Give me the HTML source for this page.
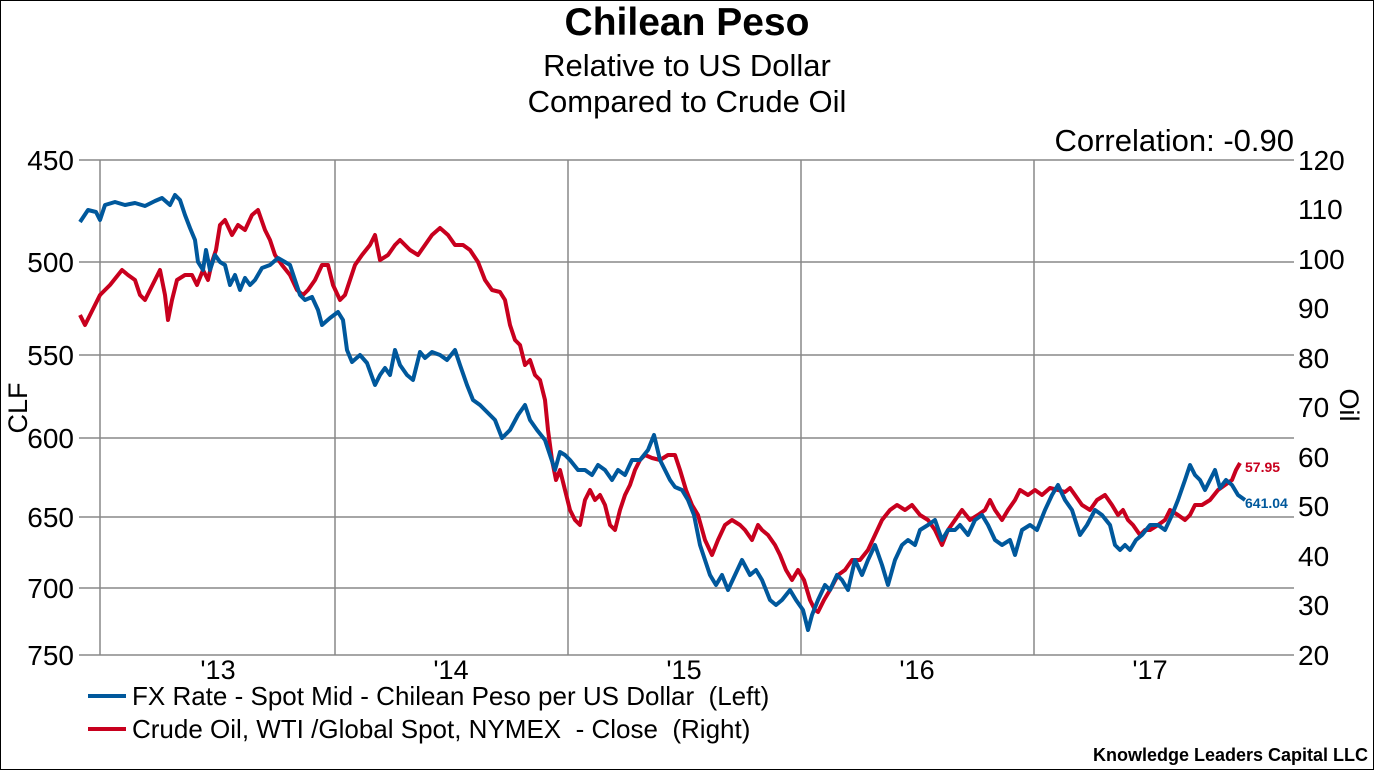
<!DOCTYPE html>
<html><head><meta charset="utf-8"><style>
body{margin:0;background:#fff;}
svg{display:block;font-family:"Liberation Sans",Arial,sans-serif;}
.pre{white-space:pre;}
</style></head><body>
<svg width="1375" height="770" xmlns="http://www.w3.org/2000/svg">
<rect x="0.5" y="0.5" width="1373" height="769" fill="#fff" stroke="#000" stroke-width="1"/>
<text x="687" y="35" text-anchor="middle" font-size="39" font-weight="bold">Chilean Peso</text>
<text x="687" y="76" text-anchor="middle" font-size="31">Relative to US Dollar</text>
<text x="687" y="112" text-anchor="middle" font-size="31">Compared to Crude Oil</text>
<text x="1294" y="151" text-anchor="end" font-size="31">Correlation: -0.90</text>
<g stroke="#888" stroke-width="1.5" fill="none">
<line x1="79" y1="160" x2="1294" y2="160"/>
<line x1="79" y1="262" x2="1294" y2="262"/>
<line x1="79" y1="355" x2="1294" y2="355"/>
<line x1="79" y1="438" x2="1294" y2="438"/>
<line x1="79" y1="517" x2="1294" y2="517"/>
<line x1="79" y1="588" x2="1294" y2="588"/>
<line x1="79" y1="655" x2="1294" y2="655"/>
<line x1="100" y1="160" x2="100" y2="655"/>
<line x1="335" y1="160" x2="335" y2="655"/>
<line x1="568" y1="160" x2="568" y2="655"/>
<line x1="801" y1="160" x2="801" y2="655"/>
<line x1="1034" y1="160" x2="1034" y2="655"/>
</g>
<g font-size="28" text-anchor="end">
<text x="74" y="170">450</text><text x="74" y="272">500</text><text x="74" y="365">550</text>
<text x="74" y="448">600</text><text x="74" y="527">650</text><text x="74" y="598">700</text><text x="74" y="665">750</text>
</g>
<g font-size="28">
<text x="1298" y="170">120</text><text x="1298" y="219">110</text><text x="1298" y="269">100</text>
<text x="1298" y="318">90</text><text x="1298" y="368">80</text><text x="1298" y="417">70</text>
<text x="1298" y="467">60</text><text x="1298" y="516">50</text><text x="1298" y="566">40</text>
<text x="1298" y="615">30</text><text x="1298" y="665">20</text>
</g>
<g font-size="27" text-anchor="middle">
<text x="218" y="679">'13</text><text x="451" y="679">'14</text><text x="684" y="679">'15</text><text x="917" y="679">'16</text><text x="1150" y="679">'17</text>
</g>
<text transform="translate(27,408) rotate(-90)" text-anchor="middle" font-size="27">CLF</text>
<text transform="translate(1340,405) rotate(90)" text-anchor="middle" font-size="27">Oil</text>
<polyline fill="none" stroke="#c8001e" stroke-width="4" stroke-linejoin="round" points="80,315 85,325 90,315 95,305 100,295 110,285 118,275 122,270 128,275 135,280 140,295 145,300 150,290 155,280 160,270 165,295 168,320 172,300 177,280 185,275 192,275 197,285 203,270 208,280 212,262 216,250 220,225 225,220 232,235 238,225 245,230 252,215 258,210 265,230 270,240 275,255 282,265 290,275 297,290 303,295 308,290 315,280 322,265 328,265 333,285 340,300 345,295 350,280 355,265 362,255 370,245 375,235 380,260 388,255 395,245 400,240 410,250 418,255 425,245 432,235 440,228 448,235 455,245 463,245 470,250 478,262 485,280 492,290 500,292 505,300 510,325 515,340 520,345 525,365 530,360 535,375 540,380 545,400 548,430 552,460 556,480 560,470 565,490 570,510 575,520 580,525 585,500 590,490 595,500 600,495 605,505 610,525 615,530 620,510 625,495 630,485 635,470 640,460 645,455 652,458 660,460 668,455 675,455 680,470 686,490 692,505 698,515 705,540 712,555 718,540 725,525 732,520 740,525 745,530 752,540 758,525 762,530 768,535 775,545 780,555 786,570 792,580 798,570 804,580 810,600 815,610 818,612 824,600 830,590 838,575 845,570 852,560 860,560 868,550 875,535 882,520 890,510 897,505 905,510 912,505 920,515 928,520 935,530 942,545 948,530 955,520 962,510 970,520 978,515 985,510 990,500 995,510 1002,520 1008,510 1015,500 1020,490 1028,495 1035,490 1042,495 1050,488 1058,490 1065,492 1070,488 1075,495 1082,505 1090,510 1097,500 1105,495 1112,505 1118,515 1123,510 1128,520 1133,525 1140,535 1145,530 1150,530 1158,525 1165,520 1170,510 1178,515 1185,520 1190,515 1195,505 1202,505 1210,500 1218,490 1225,485 1232,480 1236,470 1240,463"/>
<polyline fill="none" stroke="#00589c" stroke-width="4" stroke-linejoin="round" points="80,222 88,210 96,212 100,220 105,205 115,202 125,205 135,203 145,206 155,201 162,198 170,205 175,195 180,200 185,215 190,228 195,240 198,262 203,270 206,250 210,270 215,255 220,262 225,265 230,285 235,275 240,290 245,278 250,285 255,280 262,268 270,265 278,258 285,262 290,265 295,280 300,295 305,300 312,297 318,310 322,325 330,318 338,312 343,320 347,350 352,362 360,355 367,363 375,385 380,375 385,368 390,375 395,350 400,365 407,375 413,380 420,352 425,358 432,352 440,355 447,360 455,350 460,365 467,385 473,400 480,405 487,412 495,420 502,438 510,430 518,415 525,405 530,420 537,430 545,440 550,455 555,470 560,452 565,455 570,460 578,470 585,470 592,475 598,465 605,470 612,480 618,470 625,475 632,460 640,460 648,450 654,435 660,460 665,470 670,480 675,487 682,490 688,500 694,515 700,545 705,560 710,575 716,585 722,575 728,590 735,575 742,560 750,575 756,570 762,580 770,600 776,605 782,600 790,590 796,600 803,610 808,630 812,615 818,600 825,585 830,590 837,575 842,580 848,590 855,560 862,575 868,560 875,545 882,565 888,585 895,560 902,545 908,540 915,545 920,530 928,525 935,520 942,540 948,530 955,530 960,525 968,535 975,520 982,515 988,525 995,540 1002,545 1010,540 1015,555 1022,530 1030,525 1037,530 1045,510 1052,495 1058,485 1065,500 1072,510 1080,535 1087,525 1095,510 1102,515 1110,525 1115,545 1120,550 1125,545 1130,550 1136,540 1142,535 1150,525 1158,525 1165,530 1172,515 1178,500 1185,480 1190,465 1195,475 1200,480 1205,490 1210,480 1215,470 1220,488 1226,480 1232,485 1238,495 1245,500"/>
<text x="1245" y="472" font-size="14" font-weight="bold" fill="#c8001e">57.95</text>
<text x="1245" y="508" font-size="14" font-weight="bold" fill="#00589c">641.04</text>
<line x1="88" y1="696" x2="126" y2="696" stroke="#00589c" stroke-width="4"/>
<line x1="88" y1="729" x2="126" y2="729" stroke="#c8001e" stroke-width="4"/>
<text class="pre" x="132" y="705" font-size="26">FX Rate - Spot Mid - Chilean Peso per US Dollar  (Left)</text>
<text class="pre" x="132" y="738" font-size="26">Crude Oil, WTI /Global Spot, NYMEX  - Close  (Right)</text>
<text x="1368" y="761" text-anchor="end" font-size="18" font-weight="bold">Knowledge Leaders Capital LLC</text>
</svg>
</body></html>
